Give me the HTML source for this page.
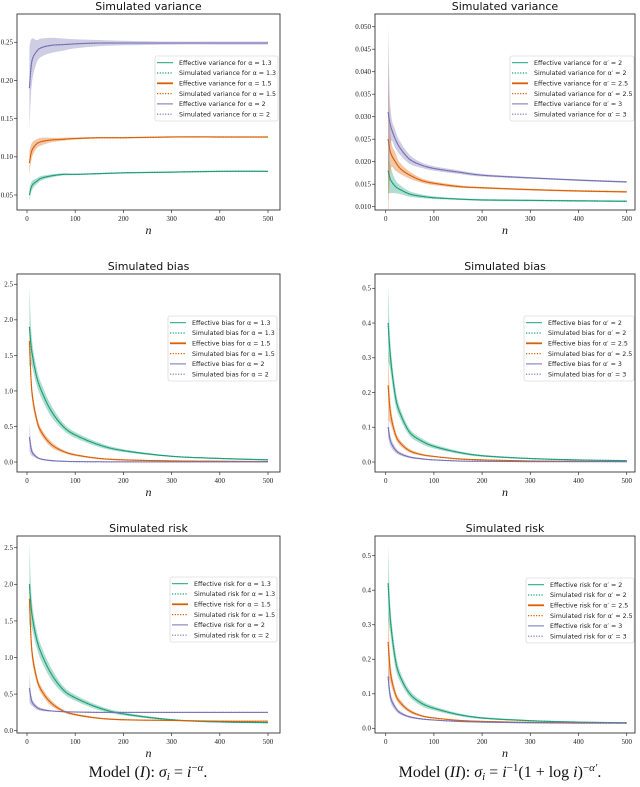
<!DOCTYPE html>
<html><head><meta charset="utf-8"><style>
body{margin:0;background:#fff;width:640px;height:787px;overflow:hidden}
svg{display:block}
.tk{font-family:"Liberation Serif",serif;font-size:7px;fill:#222}
.tt{font-family:"DejaVu Sans","Liberation Sans",sans-serif;font-size:11px;fill:#111}
.lg{font-family:"DejaVu Sans","Liberation Sans",sans-serif;font-size:6.3px;fill:#222}
.xl{font-family:"Liberation Serif",serif;font-style:italic;font-size:12px;fill:#111}
.cap{font-family:"Liberation Serif",serif;font-size:16px;fill:#111}
</style></head><body>
<svg id="fig" width="640" height="787" viewBox="0 0 640 787" xmlns="http://www.w3.org/2000/svg">
<text class="cap" x="148" y="777" text-anchor="middle">Model (<tspan font-style="italic">I</tspan>): <tspan font-style="italic">σ<tspan font-size="11" dy="3">i</tspan></tspan><tspan dy="-3"> = </tspan><tspan font-style="italic">i</tspan><tspan font-size="11" dy="-6">−<tspan font-style="italic">α</tspan></tspan><tspan dy="6">.</tspan></text>
<text class="cap" x="500" y="777" text-anchor="middle">Model (<tspan font-style="italic">II</tspan>): <tspan font-style="italic">σ<tspan font-size="11" dy="3">i</tspan></tspan><tspan dy="-3"> = </tspan><tspan font-style="italic">i</tspan><tspan font-size="11" dy="-6">−1</tspan><tspan dy="6">(1 + log </tspan><tspan font-style="italic">i</tspan>)<tspan font-size="11" dy="-6">−<tspan font-style="italic">α′</tspan></tspan><tspan dy="6">.</tspan></text>
</svg>
<script>
const nValues=[5,10,20,30,50,75,100,150,200,300,400,500];
const xTicks=[0,100,200,300,400,500];
// Panel 1: variance model I
const var1Green=[0.050,0.062,0.068,0.072,0.075,0.077,0.077,0.078,0.079,0.080,0.081,0.081];
const var1Orange=[0.092,0.108,0.117,0.120,0.122,0.123,0.124,0.125,0.125,0.126,0.126,0.126];
const var1Purple=[0.190,0.225,0.238,0.243,0.246,0.247,0.248,0.249,0.249,0.249,0.249,0.249];
const var1GreenBand=[0.008,0.006,0.004,0.003,0.002,0.0015,0.001,0.001,0.001,0.001,0.001,0.001];
const var1OrangeBand=[0.016,0.010,0.006,0.005,0.003,0.002,0.0015,0.001,0.001,0.001,0.001,0.001];
const var1PurpleBand=[0.055,0.030,0.015,0.012,0.010,0.008,0.006,0.004,0.003,0.002,0.002,0.002];
const var1Ticks=[0.05,0.10,0.15,0.20,0.25];
// Panel 2: variance model II
const var2Green=[0.018,0.016,0.0145,0.0138,0.0128,0.0123,0.0120,0.0117,0.0115,0.0114,0.0113,0.0112];
const var2Orange=[0.025,0.022,0.020,0.0185,0.017,0.0158,0.0152,0.0145,0.0142,0.0138,0.0135,0.0133];
const var2Purple=[0.031,0.028,0.025,0.023,0.0205,0.0192,0.0185,0.0177,0.0170,0.0164,0.0159,0.0155];
const var2GreenBand=[0.005,0.003,0.0015,0.001,0.0006,0.0004,0.0003,0.0002,0.0002,0.0002,0.0002,0.0002];
const var2OrangeBand=[0.018,0.004,0.002,0.0012,0.0008,0.0005,0.0004,0.0003,0.0002,0.0002,0.0002,0.0002];
const var2PurpleBand=[0.019,0.004,0.002,0.0015,0.001,0.0006,0.0005,0.0004,0.0003,0.0002,0.0002,0.0002];
const var2Ticks=[0.010,0.015,0.020,0.025,0.030,0.035,0.040,0.045,0.050];
// Panel 3: bias model I
const bias1Green=[1.9,1.55,1.2,1.0,0.72,0.5,0.38,0.24,0.16,0.08,0.05,0.03];
const bias1Orange=[1.7,1.0,0.6,0.42,0.25,0.15,0.10,0.05,0.03,0.015,0.01,0.005];
const bias1Purple=[0.35,0.15,0.07,0.04,0.02,0.01,0.005,0.003,0.002,0.001,0.001,0.001];
const bias1GreenBand=[0.55,0.2,0.12,0.1,0.08,0.05,0.04,0.03,0.02,0.01,0.01,0.01];
const bias1OrangeBand=[0.15,0.1,0.06,0.05,0.04,0.02,0.015,0.01,0.01,0.005,0.005,0.005];
const bias1PurpleBand=[0.2,0.06,0.02,0.01,0.01,0.005,0.005,0.003,0.002,0.001,0.001,0.001];
const bias1Ticks=[0.0,0.5,1.0,1.5,2.0,2.5];
// Panel 4: bias model II
const bias2Green=[0.40,0.30,0.19,0.14,0.085,0.06,0.045,0.028,0.018,0.010,0.006,0.004];
const bias2Orange=[0.22,0.14,0.08,0.055,0.032,0.021,0.016,0.009,0.006,0.003,0.002,0.001];
const bias2Purple=[0.10,0.06,0.035,0.024,0.014,0.009,0.006,0.003,0.002,0.001,0.001,0.001];
const bias2GreenBand=[0.11,0.04,0.025,0.015,0.01,0.008,0.006,0.004,0.003,0.002,0.001,0.001];
const bias2OrangeBand=[0.1,0.03,0.012,0.008,0.005,0.003,0.002,0.002,0.001,0.001,0.001,0.001];
const bias2PurpleBand=[0.03,0.015,0.008,0.005,0.003,0.002,0.001,0.001,0.001,0.001,0.001,0.001];
const bias2Ticks=[0.0,0.1,0.2,0.3,0.4,0.5];
// Panel 5: risk model I
const risk1Green=[2.0,1.6,1.25,1.05,0.78,0.56,0.45,0.31,0.23,0.15,0.12,0.11];
const risk1Orange=[1.8,1.1,0.72,0.55,0.38,0.27,0.22,0.17,0.15,0.14,0.13,0.13];
const risk1Purple=[0.58,0.40,0.32,0.29,0.27,0.26,0.255,0.25,0.25,0.25,0.25,0.25];
const risk1GreenBand=[0.55,0.2,0.12,0.1,0.08,0.05,0.04,0.03,0.02,0.01,0.01,0.01];
const risk1OrangeBand=[0.15,0.1,0.06,0.05,0.04,0.02,0.015,0.01,0.01,0.005,0.005,0.005];
const risk1PurpleBand=[0.2,0.06,0.03,0.02,0.01,0.008,0.006,0.005,0.004,0.003,0.003,0.003];
const risk1Ticks=[0.0,0.5,1.0,1.5,2.0,2.5];
// Panel 6: risk model II
const risk2Green=[0.42,0.31,0.20,0.15,0.10,0.072,0.058,0.040,0.030,0.022,0.018,0.016];
const risk2Orange=[0.25,0.16,0.10,0.075,0.05,0.036,0.030,0.023,0.020,0.017,0.016,0.015];
const risk2Purple=[0.15,0.09,0.06,0.045,0.033,0.027,0.024,0.020,0.018,0.016,0.015,0.015];
const risk2GreenBand=[0.11,0.04,0.025,0.015,0.01,0.008,0.006,0.004,0.003,0.002,0.001,0.001];
const risk2OrangeBand=[0.1,0.03,0.012,0.008,0.005,0.003,0.002,0.002,0.001,0.001,0.001,0.001];
const risk2PurpleBand=[0.03,0.015,0.008,0.005,0.003,0.002,0.001,0.001,0.001,0.001,0.001,0.001];
const risk2Ticks=[0.0,0.1,0.2,0.3,0.4,0.5];

const NS='http://www.w3.org/2000/svg';
const svg=document.getElementById('fig');
const COL=['#1b9e77','#d95f02','#7570b3'];
function mk(tag,attrs,parent){const e=document.createElementNS(NS,tag);for(const k in attrs)e.setAttribute(k,attrs[k]);(parent||svg).appendChild(e);return e;}
function smooth(pts){let d='M'+pts[0][0].toFixed(2)+','+pts[0][1].toFixed(2);
 for(let i=0;i<pts.length-1;i++){const p0=pts[Math.max(0,i-1)],p1=pts[i],p2=pts[i+1],p3=pts[Math.min(pts.length-1,i+2)];
  const c1=[p1[0]+(p2[0]-p0[0])/6,p1[1]+(p2[1]-p0[1])/6],c2=[p2[0]-(p3[0]-p1[0])/6,p2[1]-(p3[1]-p1[1])/6];
  d+=' C'+c1[0].toFixed(2)+','+c1[1].toFixed(2)+' '+c2[0].toFixed(2)+','+c2[1].toFixed(2)+' '+p2[0].toFixed(2)+','+p2[1].toFixed(2);}
 return d;}
function pathFrom(pts){return smooth(pts).slice(1);}

function panel(cfg,idx){
 const [L,T,R,B]=cfg.frame;
 const g=mk('g',{});
 
 
 const xs=n=>cfg.x0+(n/500)*(cfg.x500-cfg.x0);
 const ys=v=>cfg.yA[1]+(v-cfg.yA[0])*(cfg.yB[1]-cfg.yA[1])/(cfg.yB[0]-cfg.yA[0]);
 const cp=mk('clipPath',{id:'clip'+idx},g);mk('rect',{x:L,y:T,width:R-L,height:B-T},cp);
 const plot=mk('g',{'clip-path':'url(#clip'+idx+')'},g);
 cfg.series.forEach((s,si)=>{
  const up=nValues.map((n,i)=>[xs(n),ys(s.v[i]+s.b[i])]);
  const lo=nValues.map((n,i)=>[xs(n),ys(s.v[i]-s.b[i])]).reverse();
  const band=mk('path',{d:smooth(up)+' L'+pathFrom(lo)+' Z',fill:COL[si],'fill-opacity':0.35,stroke:'none'},plot);
  
  
  const pts=nValues.map((n,i)=>[xs(n),ys(s.v[i])]);
  const ln=mk('path',{d:smooth(pts),fill:'none',stroke:COL[si],'stroke-width':1},plot);
  
  
  const dl=mk('path',{d:smooth(pts),fill:'none',stroke:COL[si],'stroke-width':1.2,'stroke-dasharray':'1.2,1.5'},plot);
  
  
 });
 mk('rect',{x:L,y:T,width:R-L,height:B-T,fill:'none',stroke:'#333','stroke-width':0.9},g);
 xTicks.forEach(t=>{const x=xs(t);mk('line',{x1:x,x2:x,y1:B,y2:B+3,stroke:'#333','stroke-width':0.7},g);
  const tx=mk('text',{x:x,y:B+11,'text-anchor':'middle',class:'tk'},g);tx.textContent=t;
  
  });
 cfg.ticks.forEach(t=>{const y=ys(t);mk('line',{x1:L-3,x2:L,y1:y,y2:y,stroke:'#333','stroke-width':0.7},g);
  const tx=mk('text',{x:L-4,y:y+2.4,'text-anchor':'end',class:'tk'},g);tx.textContent=t.toFixed(cfg.dec);
  
  });
 const ti=mk('text',{x:(L+R)/2,y:T-4,'text-anchor':'middle',class:'tt'},g);ti.textContent=cfg.title;
 
 
 const xl=mk('text',{x:(L+R)/2,y:B+24,'text-anchor':'middle',class:'xl'},g);xl.textContent='n';
 
 
 const [lx,ly,lw]=cfg.legend;
 const lg=mk('g',{},g);
 
 
 mk('rect',{x:lx,y:ly,width:lw,height:65,rx:2,fill:'#fff','fill-opacity':0.85,stroke:'#ccc','stroke-width':0.6},lg);
 for(let k=0;k<6;k++){const si=Math.floor(k/2),sim=k%2===1;const y=ly+6.7+k*10.3;
  const e=mk('g',{},lg);
  
  
  mk('line',{x1:lx+2,x2:lx+18,y1:y,y2:y,stroke:COL[si],'stroke-width':sim?1.2:(si===1?1.8:1),'stroke-dasharray':sim?'1.2,1.5':'none'},e);
  const tx=mk('text',{x:lx+24,y:y+2.2,class:'lg'},e);
  tx.textContent=(sim?'Simulated ':'Effective ')+cfg.qty+' for '+cfg.sym+' = '+cfg.params[si];}
}
const panels=[
 {name:'panel-variance-model-1',title:'Simulated variance',qty:'variance',sym:'α',params:['1.3','1.5','2'],frame:[17,14,280,210],x0:27,x500:268,yA:[0.25,42.3],yB:[0.05,195],ticks:var1Ticks,dec:2,legend:[155,56,123],
  series:[{key:'green',v:var1Green,b:var1GreenBand},{key:'orange',v:var1Orange,b:var1OrangeBand},{key:'purple',v:var1Purple,b:var1PurpleBand}]},
 {name:'panel-variance-model-2',title:'Simulated variance',qty:'variance',sym:'α′',params:['2','2.5','3'],frame:[375,14,635,210],x0:385.7,x500:626.7,yA:[0.05,26.7],yB:[0.01,206.7],ticks:var2Ticks,dec:3,legend:[510,56,124],
  series:[{key:'green',v:var2Green,b:var2GreenBand},{key:'orange',v:var2Orange,b:var2OrangeBand},{key:'purple',v:var2Purple,b:var2PurpleBand}]},
 {name:'panel-bias-model-1',title:'Simulated bias',qty:'bias',sym:'α',params:['1.3','1.5','2'],frame:[17,274,280,472],x0:27,x500:268,yA:[2.5,284.3],yB:[0,462],ticks:bias1Ticks,dec:1,legend:[168,316,109],
  series:[{key:'green',v:bias1Green,b:bias1GreenBand},{key:'orange',v:bias1Orange,b:bias1OrangeBand},{key:'purple',v:bias1Purple,b:bias1PurpleBand}]},
 {name:'panel-bias-model-2',title:'Simulated bias',qty:'bias',sym:'α′',params:['2','2.5','3'],frame:[375,274,635,472],x0:385.7,x500:626.7,yA:[0.5,288.3],yB:[0,462],ticks:bias2Ticks,dec:1,legend:[524,316,110],
  series:[{key:'green',v:bias2Green,b:bias2GreenBand},{key:'orange',v:bias2Orange,b:bias2OrangeBand},{key:'purple',v:bias2Purple,b:bias2PurpleBand}]},
 {name:'panel-risk-model-1',title:'Simulated risk',qty:'risk',sym:'α',params:['1.3','1.5','2'],frame:[17,536,280,733],x0:27,x500:268,yA:[2.5,547.7],yB:[0,730.7],ticks:risk1Ticks,dec:1,legend:[170,577,107],
  series:[{key:'green',v:risk1Green,b:risk1GreenBand},{key:'orange',v:risk1Orange,b:risk1OrangeBand},{key:'purple',v:risk1Purple,b:risk1PurpleBand}]},
 {name:'panel-risk-model-2',title:'Simulated risk',qty:'risk',sym:'α′',params:['2','2.5','3'],frame:[375,536,635,733],x0:385.7,x500:626.7,yA:[0.5,555.7],yB:[0,728.3],ticks:risk2Ticks,dec:1,legend:[526,578,108],
  series:[{key:'green',v:risk2Green,b:risk2GreenBand},{key:'orange',v:risk2Orange,b:risk2OrangeBand},{key:'purple',v:risk2Purple,b:risk2PurpleBand}]}
];
panels.forEach((p,i)=>panel(p,i));
</script>
</body></html>
